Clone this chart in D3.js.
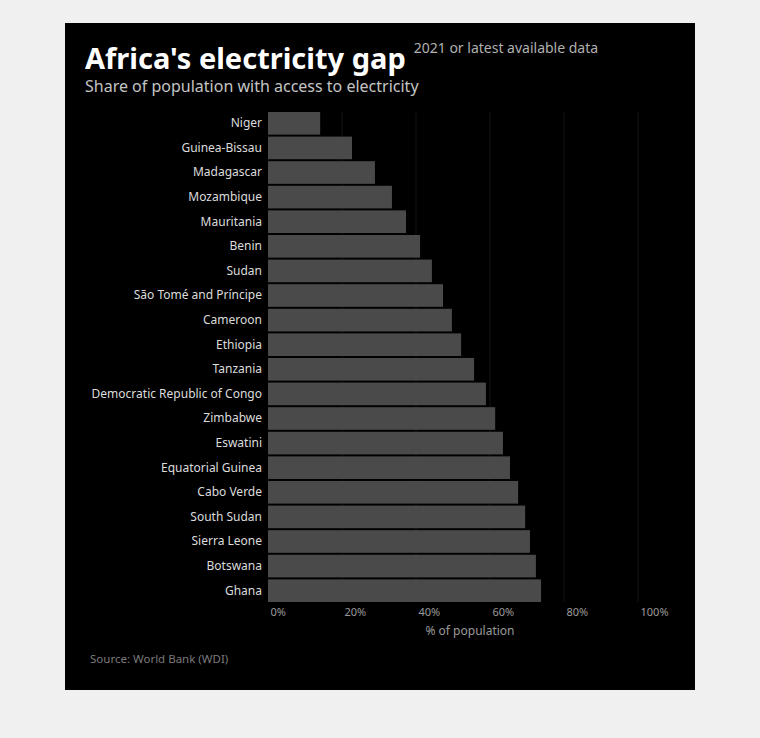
<!DOCTYPE html>
<html>
<head>
<meta charset="utf-8">
<script src="https://cdn.jsdelivr.net/npm/d3@7"></script>
<style>
  html, body { margin: 0; padding: 0; background: #f0f0f0; }
  svg { position: absolute; left: 65px; top: 23px; display: block; }
  text { font-family: "Noto Sans", "Liberation Sans", sans-serif; }
</style>
</head>
<body>
<svg id="chart" width="630" height="667"></svg>
<script>
const categories = [
  "Niger", "Guinea-Bissau", "Madagascar", "Mozambique", "Mauritania",
  "Benin", "Sudan", "São Tomé and Príncipe", "Cameroon", "Ethiopia",
  "Tanzania", "Democratic Republic of Congo", "Zimbabwe", "Eswatini", "Equatorial Guinea",
  "Cabo Verde", "South Sudan", "Sierra Leone", "Botswana", "Ghana"
];
const values = [
  14.1, 22.7, 28.9, 33.5, 37.3,
  41.1, 44.3, 47.3, 49.7, 52.2,
  55.7, 58.9, 61.4, 63.5, 65.4,
  67.6, 69.5, 70.8, 72.4, 73.8
];
const tickValues = [0, 20, 40, 60, 80, 100];
const tickLabels = ["0%", "20%", "40%", "60%", "80%", "100%"];

const titleText = "Africa's electricity gap";
const noteText = "2021 or latest available data";
const subtitleText = "Share of population with access to electricity";
const axisTitle = "% of population";
const sourceText = "Source: World Bank (WDI)";

const W = 630, H = 667;
const svg = d3.select("#chart");
svg.append("rect").attr("width", W).attr("height", H).attr("fill", "#000");

const x = d3.scaleLinear().domain([0, 100]).range([203, 573]);
const y = d3.scaleBand().domain(categories).range([89, 579]).paddingInner(0.08);

// faint gridlines
svg.append("g").selectAll("line").data(tickValues.slice(1)).join("line")
  .attr("x1", d => x(d)).attr("x2", d => x(d))
  .attr("y1", 89).attr("y2", 579)
  .attr("stroke", "#141414").attr("stroke-width", 1);

// bars
svg.append("g").selectAll("rect").data(categories).join("rect")
  .attr("x", x(0))
  .attr("y", d => y(d))
  .attr("width", (d, i) => x(values[i]) - x(0))
  .attr("height", y.bandwidth())
  .attr("fill", "#4a4a4a");

// y axis labels
const yAxis = d3.axisLeft(y).tickSize(0).tickPadding(6);
const yg = svg.append("g").attr("transform", `translate(${x(0)},0)`).call(yAxis);
yg.select(".domain").remove();
yg.selectAll("text").attr("fill", "#dcdcdc").style("font-size", "12px")
  .style("font-family", '"Noto Sans", sans-serif');

// x axis
const xAxis = d3.axisBottom(x).tickValues(tickValues).tickFormat((d, i) => tickLabels[i]).tickSize(0).tickPadding(6);
const xg = svg.append("g").attr("transform", `translate(0,579)`).call(xAxis);
xg.select(".domain").remove();
xg.selectAll("text").attr("fill", "#9a9a9a").style("font-size", "11px")
  .style("font-family", '"Noto Sans", sans-serif')
  .attr("text-anchor", "start").attr("dx", "2");

svg.append("text").attr("x", 405).attr("y", 612).attr("text-anchor", "middle")
  .attr("fill", "#9a9a9a").style("font-size", "12px").text(axisTitle);

// title block
const t = svg.append("text").attr("x", 20).attr("y", 46).attr("fill", "#ffffff")
  .style("font-size", "29px").style("font-weight", "700").text(titleText);
const tw = t.node().getComputedTextLength();
svg.append("text").attr("x", 20 + tw + 8).attr("y", 30).attr("fill", "#b0b0b0")
  .style("font-size", "14px").text(noteText);
svg.append("text").attr("x", 20).attr("y", 69).attr("fill", "#c4c4c4")
  .style("font-size", "16px").text(subtitleText);

svg.append("text").attr("x", 25).attr("y", 640).attr("fill", "#7a7a7a")
  .style("font-size", "11.5px").text(sourceText);
</script>
</body>
</html>
